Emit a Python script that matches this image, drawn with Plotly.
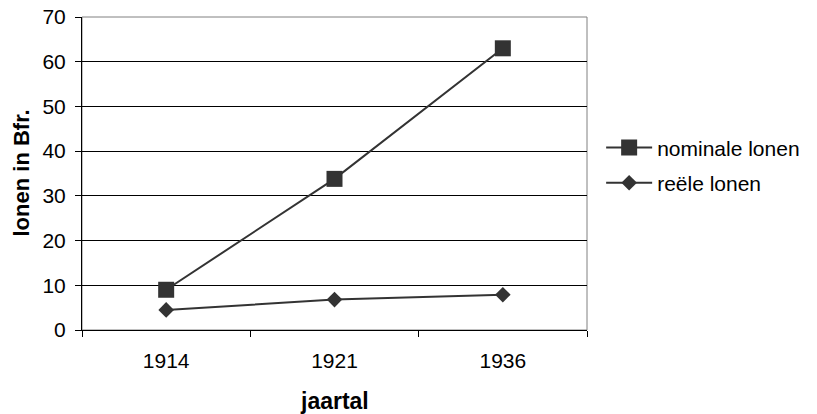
import plotly.graph_objects as go

years = ["1914", "1921", "1936"]
nominale = [9.0, 33.8, 63.0]
reele = [4.5, 6.8, 7.9]
y_ticks = [0, 10, 20, 30, 40, 50, 60, 70]

FONT = "Liberation Sans, Arial, sans-serif"
C = "#333333"

fig = go.Figure()
fig.add_trace(go.Scatter(
    x=years, y=nominale, name="nominale lonen", mode="lines+markers",
    legendgroup="a",
    line=dict(color=C, width=2),
    marker=dict(symbol="square", size=16, color=C),
))
fig.add_trace(go.Scatter(
    x=years, y=reele, name="reële lonen", mode="lines+markers",
    legendgroup="b",
    line=dict(color=C, width=2),
    marker=dict(symbol="diamond", size=12, color=C),
))

fig.add_shape(type="rect", xref="paper", yref="paper", x0=0, x1=1, y0=0, y1=1,
              line=dict(color="#808080", width=1), layer="below")

# axis titles
fig.add_annotation(text="<b>jaartal</b>", xref="paper", yref="paper",
                   x=0.5, y=0, xanchor="center", yanchor="middle", yshift=-71,
                   showarrow=False, font=dict(size=23, color="black"))
fig.add_annotation(text="<b>lonen in Bfr.</b>", xref="paper", yref="paper",
                   x=0, y=0.5, xanchor="center", yanchor="middle", xshift=-61,
                   textangle=-90, showarrow=False, font=dict(size=22, color="black"))

# the page body has an 8px margin; shrink the figure so the chart lands on 817x414
fig.update_layout(
    width=809, height=406,
    margin=dict(l=74, r=230, t=9, b=84),
    paper_bgcolor="white", plot_bgcolor="white",
    font=dict(family=FONT, size=21, color="black"),
    showlegend=True,
    legend=dict(x=1.028, y=0.526, xanchor="left", yanchor="middle",
                font=dict(size=21, color="black"), bgcolor="rgba(0,0,0,0)",
                traceorder="grouped", tracegroupgap=5, itemwidth=46),
    xaxis=dict(
        type="category", range=[-0.5, 2.5], tickson="boundaries",
        ticks="outside", ticklen=6, tickcolor="black", tickwidth=1,
        showline=True, linecolor="black", linewidth=1, showgrid=False,
        tickfont=dict(size=21), automargin=False, ticklabelstandoff=12,
        ticklabeloverflow="allow",
    ),
    yaxis=dict(
        range=[0, 70], tickvals=y_ticks, ticks="outside", ticklen=6,
        tickcolor="black", tickwidth=1,
        showline=True, linecolor="black", linewidth=1,
        showgrid=True, gridcolor="black", gridwidth=1, zeroline=False,
        tickfont=dict(size=21), automargin=False, ticklabelstandoff=5,
        ticklabeloverflow="allow",
    ),
)

fig.write_html("out.html")
